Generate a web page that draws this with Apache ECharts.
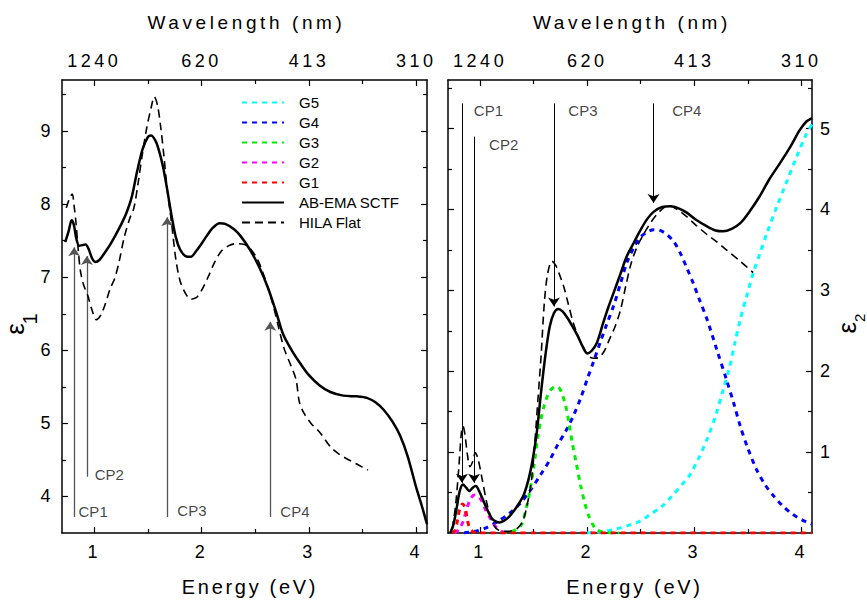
<!DOCTYPE html>
<html><head><meta charset="utf-8">
<script src="https://cdn.jsdelivr.net/npm/echarts@6/dist/echarts.min.js"></script>
<style>
html,body{margin:0;padding:0;background:#fff}
#c{width:867px;height:606px}
#c svg text[style*="18px"]{letter-spacing:3.5px}
#c svg text[style*="19px"]{letter-spacing:3.6px}
#c svg text[style*="20px"]{letter-spacing:2.7px}
</style>
</head><body><div id="c"></div>
<script>
const energyTicks = [1, 2, 3, 4];
const energyMinorTicks = [1.5, 2.5, 3.5];
const wavelengthLabels = ['1240', '620', '413', '310'];
const eps1Ticks = [4, 5, 6, 7, 8, 9];
const eps1MinorTicks = [4.5, 5.5, 6.5, 7.5, 8.5, 9.5];
const eps2Ticks = [1, 2, 3, 4, 5];
const eps2MinorTicks = [0.5, 1.5, 2.5, 3.5, 4.5, 5.5];

const eps1SCTF = [[0.73,7.48],[0.76,7.62],[0.79,7.78],[0.81,7.72],[0.835,7.52],[0.86,7.43],[0.89,7.44],[0.92,7.45],[0.95,7.38],[0.98,7.26],[1.01,7.21],[1.05,7.24],[1.1,7.34],[1.15,7.45],[1.2,7.58],[1.25,7.72],[1.3,7.88],[1.35,8.1],[1.4,8.45],[1.45,8.75],[1.5,8.92],[1.53,8.94],[1.57,8.87],[1.6,8.75],[1.64,8.52],[1.68,8.2],[1.72,7.85],[1.76,7.55],[1.8,7.38],[1.85,7.29],[1.9,7.28],[1.95,7.36],[2.0,7.46],[2.05,7.57],[2.1,7.67],[2.17,7.74],[2.22,7.73],[2.3,7.66],[2.36,7.57],[2.45,7.38],[2.54,7.13],[2.62,6.85],[2.7,6.5],[2.76,6.22],[2.84,6.0],[2.92,5.82],[3.0,5.66],[3.1,5.52],[3.2,5.43],[3.32,5.38],[3.45,5.37],[3.54,5.35],[3.62,5.29],[3.7,5.18],[3.78,5.02],[3.85,4.83],[3.92,4.55],[4.0,4.12],[4.05,3.88],[4.1,3.62]];
const eps1HILA = [[0.74,7.95],[0.77,8.08],[0.795,8.14],[0.815,7.95],[0.83,7.75],[0.85,7.4],[0.87,7.1],[0.9,6.9],[0.94,6.75],[0.98,6.55],[1.02,6.42],[1.06,6.48],[1.1,6.62],[1.15,6.85],[1.19,6.98],[1.23,7.2],[1.28,7.55],[1.33,7.8],[1.37,7.95],[1.41,8.3],[1.45,8.7],[1.49,9.05],[1.53,9.32],[1.56,9.47],[1.59,9.35],[1.62,9.05],[1.65,8.65],[1.68,8.2],[1.72,7.75],[1.76,7.25],[1.8,6.95],[1.85,6.78],[1.9,6.7],[1.95,6.72],[2.0,6.82],[2.06,7.0],[2.12,7.2],[2.18,7.35],[2.25,7.43],[2.32,7.46],[2.4,7.45],[2.46,7.38],[2.52,7.25],[2.57,7.07],[2.62,6.85],[2.67,6.6],[2.72,6.3],[2.77,6.02],[2.83,5.8],[2.88,5.6],[2.91,5.3],[2.95,5.15],[3.02,5.0],[3.1,4.88],[3.2,4.68],[3.28,4.58],[3.36,4.51],[3.45,4.44],[3.55,4.36]];
const eps2SCTF = [[0.72,0.0],[0.75,0.1],[0.78,0.3],[0.81,0.52],[0.84,0.6],[0.87,0.56],[0.9,0.52],[0.93,0.56],[0.96,0.58],[0.99,0.52],[1.03,0.4],[1.07,0.28],[1.11,0.18],[1.15,0.14],[1.18,0.13],[1.22,0.15],[1.27,0.2],[1.32,0.28],[1.37,0.38],[1.41,0.48],[1.45,0.65],[1.49,0.9],[1.53,1.25],[1.57,1.75],[1.61,2.2],[1.65,2.55],[1.69,2.72],[1.73,2.77],[1.77,2.74],[1.81,2.67],[1.86,2.56],[1.91,2.44],[1.96,2.3],[2.0,2.22],[2.04,2.25],[2.09,2.35],[2.15,2.6],[2.2,2.8],[2.25,2.98],[2.31,3.2],[2.37,3.42],[2.44,3.6],[2.5,3.75],[2.56,3.88],[2.62,3.97],[2.7,4.03],[2.78,4.04],[2.86,4.01],[2.93,3.96],[3.02,3.87],[3.12,3.79],[3.2,3.74],[3.27,3.73],[3.35,3.76],[3.43,3.83],[3.52,3.98],[3.61,4.16],[3.7,4.37],[3.8,4.57],[3.9,4.78],[3.985,4.98],[4.05,5.09],[4.1,5.13]];
const eps2HILA = [[0.74,0.05],[0.77,0.33],[0.8,0.79],[0.825,1.24],[0.84,1.32],[0.86,1.2],[0.88,0.98],[0.905,0.82],[0.93,0.88],[0.955,0.99],[0.98,0.92],[1.02,0.66],[1.07,0.33],[1.13,0.09],[1.18,0.03],[1.25,0.02],[1.3,0.03],[1.35,0.06],[1.4,0.15],[1.44,0.35],[1.48,0.65],[1.51,1.1],[1.54,1.65],[1.57,2.2],[1.6,2.85],[1.63,3.2],[1.67,3.36],[1.71,3.3],[1.74,3.2],[1.78,3.05],[1.82,2.85],[1.87,2.6],[1.92,2.42],[1.97,2.28],[2.02,2.18],[2.06,2.16],[2.11,2.17],[2.16,2.25],[2.21,2.4],[2.26,2.55],[2.31,2.75],[2.36,3.05],[2.41,3.33],[2.47,3.55],[2.53,3.7],[2.6,3.85],[2.68,3.98],[2.76,4.05],[2.84,4.0],[2.93,3.91],[3.02,3.8],[3.12,3.69],[3.21,3.6],[3.3,3.5],[3.42,3.37],[3.55,3.22]];
const g1 = [[0.74,0.0],[0.77,0.04],[0.79,0.17],[0.81,0.3],[0.836,0.36],[0.86,0.31],[0.88,0.17],[0.9,0.07],[0.93,0.02],[0.97,0.0],[1.5,0.0],[2.5,0.0],[3.5,0.0],[4.1,0.0]];
const g2 = [[0.76,0.0],[0.8,0.04],[0.84,0.14],[0.88,0.32],[0.91,0.42],[0.945,0.47],[0.98,0.45],[1.01,0.41],[1.05,0.29],[1.1,0.17],[1.15,0.07],[1.2,0.02],[1.25,0.0]];
const g3 = [[1.2,0.0],[1.3,0.02],[1.38,0.09],[1.42,0.25],[1.456,0.46],[1.5,0.8],[1.535,1.16],[1.57,1.42],[1.6,1.58],[1.63,1.7],[1.66,1.77],[1.7,1.81],[1.74,1.79],[1.77,1.7],[1.8,1.57],[1.83,1.36],[1.86,1.12],[1.9,0.85],[1.94,0.58],[1.98,0.36],[2.015,0.21],[2.05,0.11],[2.08,0.05],[2.15,0.01],[2.3,0.0]];
const g4 = [[0.85,0.0],[0.95,0.02],[1.05,0.06],[1.16,0.14],[1.27,0.24],[1.38,0.375],[1.47,0.53],[1.565,0.72],[1.65,0.9],[1.72,1.08],[1.8,1.26],[1.875,1.46],[1.94,1.67],[2.0,1.9],[2.06,2.12],[2.12,2.35],[2.18,2.57],[2.25,2.82],[2.31,3.08],[2.37,3.34],[2.44,3.54],[2.5,3.66],[2.56,3.72],[2.62,3.75],[2.68,3.74],[2.745,3.69],[2.81,3.6],[2.87,3.46],[2.93,3.28],[2.99,3.09],[3.05,2.88],[3.12,2.64],[3.21,2.27],[3.3,1.9],[3.37,1.6],[3.43,1.32],[3.5,1.05],[3.58,0.79],[3.66,0.6],[3.74,0.46],[3.83,0.33],[3.92,0.23],[4.01,0.16],[4.1,0.11]];
const g5 = [[2.0,0.0],[2.1,0.01],[2.2,0.03],[2.3,0.06],[2.4,0.1],[2.5,0.15],[2.6,0.24],[2.7,0.33],[2.8,0.47],[2.9,0.62],[2.96,0.72],[3.04,0.92],[3.12,1.16],[3.2,1.45],[3.27,1.77],[3.33,2.05],[3.38,2.35],[3.43,2.64],[3.49,2.93],[3.55,3.21],[3.62,3.48],[3.68,3.71],[3.77,4.03],[3.86,4.33],[3.95,4.63],[4.05,4.94],[4.1,5.05]];

const cpLeftArrows = [[0.813,3.72,7.41],[0.932,4.27,7.29],[1.68,3.72,7.82],[2.64,3.72,6.39]];
const cpLeftLabels = [['CP1',0.99,3.79],['CP2',1.14,4.30],['CP3',1.91,3.81],['CP4',2.87,3.79]];
const cpRightArrows = [[0.83,5.31,0.62],[0.944,4.9,0.62],[1.69,5.31,2.80],[2.62,5.31,4.08]];
const cpRightLabels = [['CP1',1.078,5.22],['CP2',1.22,4.80],['CP3',1.96,5.22],['CP4',2.93,5.22]];

const FONT = "'Liberation Sans', Arial, Helvetica, sans-serif";

function xAx(g, pos, ticks, len, o) {
  o = o || {};
  return {
    type: 'value', gridIndex: g, position: pos, min: 0.7, max: 4.1,
    axisLine: {show: !!o.line, onZero: false, lineStyle: {color: '#000', width: 1.5}},
    axisTick: {show: true, inside: true, length: len, customValues: ticks, lineStyle: {color: '#000', width: 1.2}},
    axisLabel: o.labels ? {show: true, customValues: o.labels, formatter: o.fmt, fontSize: 18, color: '#000', fontFamily: FONT, margin: o.margin} : {show: false},
    splitLine: {show: false},
    name: o.name || '', nameLocation: 'middle', nameGap: o.gap || 0,
    nameTextStyle: {fontSize: o.nameSize || 19, color: '#000', fontFamily: FONT, padding: [0, 0, 0, o.shift || 0]}
  };
}
function yAx(g, pos, mn, mx, ticks, len, o) {
  o = o || {};
  return {
    type: 'value', gridIndex: g, position: pos, min: mn, max: mx,
    axisLine: {show: !!o.line, onZero: false, lineStyle: {color: '#000', width: 1.5}},
    axisTick: {show: true, inside: true, length: len, customValues: ticks, lineStyle: {color: '#000', width: 1.2}},
    axisLabel: o.labels ? {show: true, customValues: o.labels, fontSize: 18, color: '#000', fontFamily: FONT, margin: o.margin} : {show: false},
    splitLine: {show: false},
    name: o.name || '', nameLocation: 'middle', nameGap: o.gap || 0,
    nameTextStyle: {fontFamily: FONT, color: '#000', padding: [0, 34, 0, 0],
      rich: {
        e: {fontSize: 26, lineHeight: 26, fontFamily: FONT, color: '#000', verticalAlign: 'top'},
        s: {fontSize: o.subSize || 20, lineHeight: o.subSize || 20, fontFamily: FONT, color: '#000', verticalAlign: 'top', padding: [o.subPad || 24, 0, 0, 0]}
      }}
  };
}
const wlFmt = v => wavelengthLabels[energyTicks.indexOf(Math.round(v))] || '';

const xAxis = [];
const yAxis = [];
for (let g = 0; g < 2; g++) {
  xAxis.push(xAx(g, 'bottom', energyTicks, 6, {line: true, labels: energyTicks, margin: 10, name: 'Energy (eV)', gap: 44, nameSize: 20, shift: g ? 9 : 11}));
  xAxis.push(xAx(g, 'bottom', energyMinorTicks, 4));
  xAxis.push(xAx(g, 'top', energyTicks, 6, {line: true, labels: energyTicks, fmt: wlFmt, margin: 10, name: 'Wavelength (nm)', gap: 48, nameSize: 19, shift: 4}));
  xAxis.push(xAx(g, 'top', energyMinorTicks, 4));
}
yAxis.push(yAx(0, 'left', 3.5, 9.7, eps1Ticks, 6, {line: true, labels: eps1Ticks, margin: 8, name: '{e|ε}{s|1}', gap: 9, subSize: 20, subPad: 18}));
yAxis.push(yAx(0, 'left', 3.5, 9.7, eps1MinorTicks, 4));
yAxis.push(yAx(0, 'right', 3.5, 9.7, eps1Ticks, 6, {line: true}));
yAxis.push(yAx(0, 'right', 3.5, 9.7, eps1MinorTicks, 4));
yAxis.push(yAx(1, 'left', 0, 5.6, eps2Ticks, 6, {line: true}));
yAxis.push(yAx(1, 'left', 0, 5.6, eps2MinorTicks, 4));
yAxis.push(yAx(1, 'right', 0, 5.6, eps2Ticks, 6, {line: true, labels: eps2Ticks, margin: 8, name: '{e|ε}{s|2}', gap: 17, subSize: 15, subPad: 18}));
yAxis.push(yAx(1, 'right', 0, 5.6, eps2MinorTicks, 4));

function lineSeries(name, data, xi, yi, color, width, type, z) {
  return {name, type: 'line', xAxisIndex: xi, yAxisIndex: yi, data, symbol: 'none', smooth: 0.3,
    lineStyle: {color, width, type}, itemStyle: {color}, z: z || 2, animation: false};
}
const gDash = [5, 5];
const blackDash = [8, 5];

const series = [
  lineSeries('AB-EMA SCTF', eps1SCTF, 0, 0, '#000', 2.5, 'solid', 4),
  lineSeries('HILA Flat', eps1HILA, 0, 0, '#000', 1.6, blackDash, 4),
  lineSeries('G5', g5, 4, 4, '#00ffff', 3, gDash, 3),
  lineSeries('G4', g4, 4, 4, '#0000ff', 3, gDash, 3),
  lineSeries('G3', g3, 4, 4, '#00ee00', 3, gDash, 3),
  lineSeries('G2', g2, 4, 4, '#ff00ff', 3, gDash, 3),
  lineSeries('G1', g1, 4, 4, '#ff0000', 3, gDash, 3),
  lineSeries('AB-EMA SCTF', eps2SCTF, 4, 4, '#000', 2.5, 'solid', 4),
  lineSeries('HILA Flat', eps2HILA, 4, 4, '#000', 1.6, blackDash, 4),
  {type: 'lines', coordinateSystem: 'cartesian2d', xAxisIndex: 0, yAxisIndex: 0, polyline: false,
    symbol: ['none', 'arrow'], symbolSize: 9, animation: false, silent: true,
    lineStyle: {color: '#555', width: 1.3, curveness: 0, opacity: 1},
    data: cpLeftArrows.map(a => ({coords: [[a[0], a[1]], [a[0], a[2]]]}))},
  {type: 'lines', coordinateSystem: 'cartesian2d', xAxisIndex: 4, yAxisIndex: 4, polyline: false,
    symbol: ['none', 'arrow'], symbolSize: 9, animation: false, silent: true,
    lineStyle: {color: '#000', width: 1, curveness: 0, opacity: 1},
    data: cpRightArrows.map(a => ({coords: [[a[0], a[1]], [a[0], a[2]]]}))},
  {type: 'scatter', xAxisIndex: 0, yAxisIndex: 0, symbolSize: 1, itemStyle: {color: 'rgba(0,0,0,0)'}, animation: false, silent: true,
    label: {show: true, position: 'inside', formatter: p => p.name, fontSize: 15, color: '#111', fontFamily: FONT},
    data: cpLeftLabels.map(c => ({name: c[0], value: [c[1], c[2]]}))},
  {type: 'scatter', xAxisIndex: 4, yAxisIndex: 4, symbolSize: 1, itemStyle: {color: 'rgba(0,0,0,0)'}, animation: false, silent: true,
    label: {show: true, position: 'inside', formatter: p => p.name, fontSize: 15, color: '#111', fontFamily: FONT},
    data: cpRightLabels.map(c => ({name: c[0], value: [c[1], c[2]]}))}
];

const chart = echarts.init(document.getElementById('c'), null, {renderer: 'svg'});
chart.setOption({
  backgroundColor: '#fff',
  animation: false,
  textStyle: {fontFamily: FONT},
  grid: [
    {left: 62, right: 440, top: 80, bottom: 73, containLabel: false, outerBoundsMode: 'none'},
    {left: 448, right: 55, top: 80, bottom: 73, containLabel: false, outerBoundsMode: 'none'}
  ],
  legend: {
    data: ['G5', 'G4', 'G3', 'G2', 'G1', 'AB-EMA SCTF', 'HILA Flat'],
    orient: 'vertical', left: 236, top: 90, itemWidth: 42, itemHeight: 14, itemGap: 5,
    itemStyle: {opacity: 0},
    textStyle: {fontSize: 15, color: '#000', fontFamily: FONT, padding: [0, 0, 0, 10]},
    selectedMode: false
  },
  xAxis, yAxis, series
});
</script></body></html>
